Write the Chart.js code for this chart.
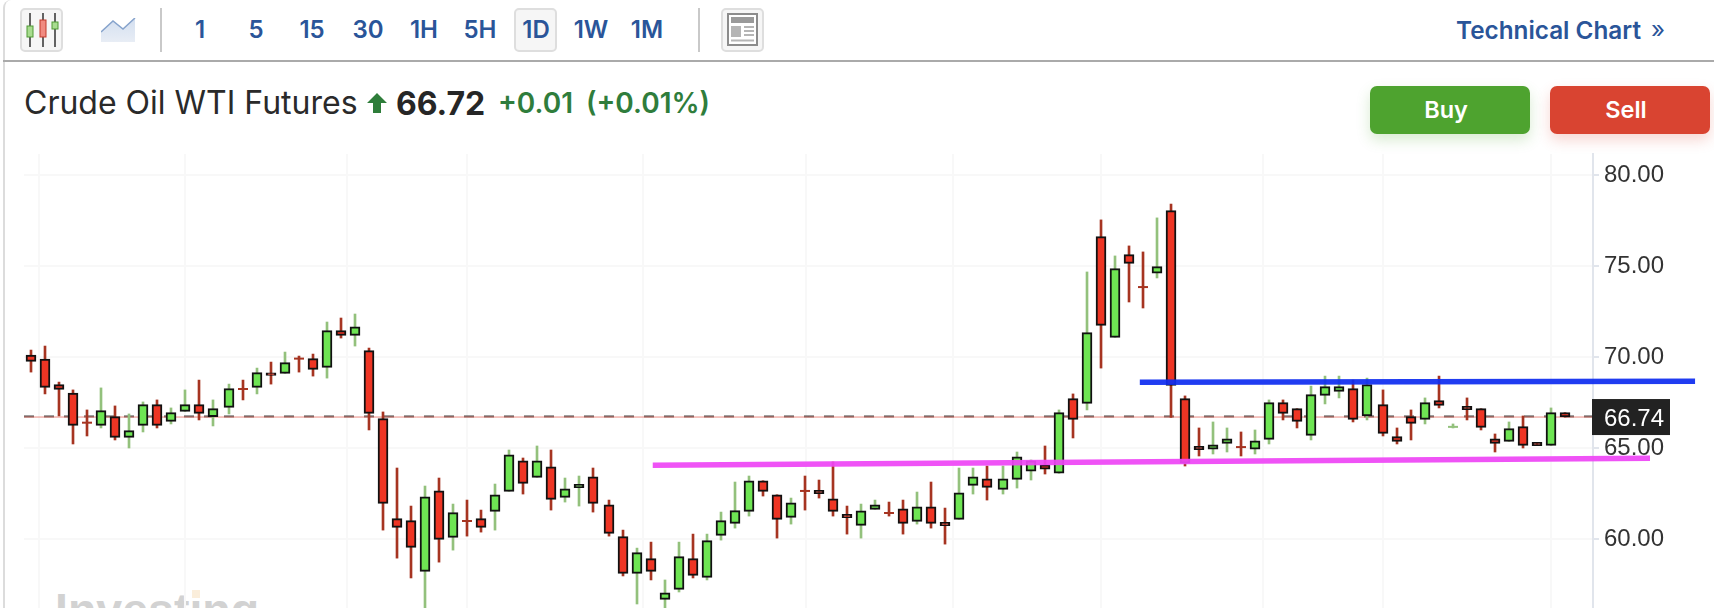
<!DOCTYPE html>
<html>
<head>
<meta charset="utf-8">
<title>Crude Oil WTI Futures</title>
<script src="https://cdn.jsdelivr.net/npm/chart.js@4"></script>
<style>
  html, body { margin: 0; padding: 0; background: #fff; }
  body { position: relative; width: 1714px; height: 608px; overflow: hidden; font-family: Inter, sans-serif; }
  .abs { position: absolute; }
  #frame { left: 3px; top: 0; width: 1711px; height: 608px; border-left: 2px solid #dcdcdc; border-top-left-radius: 8px; box-sizing: border-box; }
  #rule { left: 3px; top: 60px; width: 1711px; height: 2px; background: #aaa; }
  .sep { top: 8px; width: 2px; height: 44px; background: #c9c9c9; }
  .btn { top: 8px; width: 43px; height: 44px; box-sizing: border-box; background: #f6f6f6; border: 2px solid #dedede; border-radius: 5px; }
  .tf { top: 16px; width: 50px; text-align: center; font-size: 24px; line-height: 28px; font-weight: 600; color: #2a5599; }
  #tech { left: 1456px; top: 16px; font-size: 24.3px; line-height: 28px; font-weight: 600; color: #2a5599; white-space: nowrap; }
  #tech2 { left: 1651px; top: 16px; font-size: 24px; line-height: 28px; color: #2a5599; }
  #title { left: 24px; top: 84px; font-size: 32px; line-height: 38px; color: #2a2a2a; white-space: nowrap; }
  #price { left: 396px; top: 84px; font-size: 32px; line-height: 40px; font-weight: 700; color: #262626; }
  #change { left: 498px; top: 84px; font-size: 28px; line-height: 38px; font-weight: 600; color: #2f7d3c; white-space: nowrap; word-spacing: 6px; }
  .trade { top: 86px; width: 152px; padding-right: 8px; height: 48px; border-radius: 7px; color: #fff; text-align: center; font-size: 23.5px; font-weight: 600; line-height: 47px; }
  #buy { left: 1370px; background: #4ea32f; box-shadow: 0 6px 14px rgba(78,163,47,.22); }
  #sell { left: 1550px; background: #d94431; box-shadow: 0 6px 14px rgba(217,68,49,.22); }
  #mark { left: 55px; top: 585px; font: bold 46.5px "Liberation Sans", sans-serif; line-height: 50px; color: #d2d2d2; white-space: nowrap; }
  #markdot { left: 192px; top: 590px; width: 8px; height: 8px; background: #fbeedb; }
  #chart { position: absolute; left: 0; top: 130px; }
</style>
</head>
<body>
<div class="abs" id="frame"></div>
<div class="abs" id="rule"></div>

<div class="abs btn" style="left:20px"></div>
<svg class="abs" style="left:20px;top:8px" width="44" height="44">
  <path d="M10 5V39M23 5V39M35 5V39" stroke="#333" stroke-width="1.5"/>
  <rect x="7" y="18" width="6" height="11" fill="#a8dc8f" stroke="#4f9a34"/>
  <rect x="20" y="12" width="6" height="17" fill="#f08a80" stroke="#c0392b"/>
  <rect x="32" y="14" width="6" height="7" fill="#a8dc8f" stroke="#4f9a34"/>
</svg>
<svg class="abs" style="left:101px;top:18px" width="35" height="24">
  <defs><linearGradient id="g" x1="0" y1="0" x2="0" y2="1"><stop offset="0" stop-color="#d3dff0"/><stop offset="1" stop-color="#e8edf5"/></linearGradient></defs>
  <path d="M0 14L12 3L22 11L34 0V24H0Z" fill="url(#g)"/>
  <path d="M0 14L12 3L22 11L34 0" fill="none" stroke="#86a3cc" stroke-width="1.5"/>
</svg>
<div class="abs sep" style="left:160px"></div>
<div class="abs btn" style="left:514px"></div>
<div class="abs tf" style="left:175px">1</div>
<div class="abs tf" style="left:231px">5</div>
<div class="abs tf" style="left:287px">15</div>
<div class="abs tf" style="left:343px">30</div>
<div class="abs tf" style="left:399px">1H</div>
<div class="abs tf" style="left:455px">5H</div>
<div class="abs tf" style="left:511px">1D</div>
<div class="abs tf" style="left:566px">1W</div>
<div class="abs tf" style="left:622px">1M</div>
<div class="abs sep" style="left:698px"></div>
<div class="abs btn" style="left:721px"></div>
<svg class="abs" style="left:721px;top:8px" width="43" height="44">
  <rect x="7" y="6" width="29" height="31" fill="#fff" stroke="#8c8c8c" stroke-width="2"/>
  <rect x="10" y="9" width="23" height="6" fill="#9a9a9a"/>
  <rect x="10" y="18" width="10" height="11" fill="#b5b5b5"/>
  <path d="M23 19H33M23 23H33M23 27H33M10 32.5H33" stroke="#b5b5b5" stroke-width="2"/>
</svg>
<div class="abs" id="tech">Technical Chart</div>
<div class="abs" id="tech2">»</div>

<div class="abs" id="title">Crude Oil WTI Futures</div>
<svg class="abs" style="left:367px;top:93px" width="20" height="20"><path d="M10 0L20 10H14V20H6V10H0Z" fill="#2e7d3a"/></svg>
<div class="abs" id="price">66.72</div>
<div class="abs" id="change">+0.01 (+0.01%)</div>
<div class="abs trade" id="buy">Buy</div>
<div class="abs trade" id="sell">Sell</div>

<div class="abs" id="mark">Investing</div>
<div class="abs" id="markdot"></div>
<canvas id="chart" width="1714" height="478"></canvas>

<script>
const opens = [70.13,69.91,68.50,68.04,66.41,66.26,66.74,65.60,66.26,67.40,
  66.48,67.03,67.40,66.74,67.25,68.26,68.35,69.15,69.12,69.93,
  69.93,69.45,71.47,71.21,70.37,66.63,61.14,61.03,58.24,62.67,
  60.11,61.01,61.14,61.54,62.64,64.32,63.41,63.99,62.31,62.84,
  63.44,61.90,60.15,58.13,58.94,56.70,57.25,58.94,57.91,60.22,
  60.88,61.54,63.22,62.45,61.21,62.66,62.69,62.23,61.37,60.77,
  61.65,61.45,61.68,60.99,61.79,60.93,61.10,62.97,63.33,62.75,
  63.30,63.74,64.10,63.63,67.73,67.47,76.63,71.10,75.64,73.86,
  74.62,78.06,67.73,65.11,64.95,65.27,65.07,64.95,65.49,67.51,
  67.18,65.71,67.91,68.13,68.28,66.78,67.40,65.64,66.74,66.59,
  67.62,66.17,67.31,67.18,65.53,65.38,66.19,65.33,65.16,66.96];
const highs = [70.40,70.62,68.64,68.21,67.11,68.32,67.33,66.89,67.55,67.66,
  67.22,68.21,68.75,67.66,68.53,68.75,69.41,69.74,70.29,70.07,
  70.18,71.94,72.16,72.38,70.51,67.00,63.92,61.83,62.93,63.37,
  61.94,62.16,61.61,63.04,64.91,64.47,65.13,64.91,63.37,63.48,
  63.92,62.16,60.51,59.52,59.85,57.77,59.85,60.29,60.29,61.50,
  63.15,63.48,63.22,62.45,62.27,63.48,63.26,64.25,61.83,61.94,
  62.16,62.05,62.16,62.60,63.15,61.72,63.92,63.92,64.03,64.03,
  64.80,64.36,65.13,67.11,67.99,74.69,77.55,75.57,76.12,75.79,
  77.66,78.42,67.88,66.12,66.45,66.12,65.90,66.01,67.66,67.66,
  67.18,68.42,68.97,68.97,68.75,68.86,68.21,66.12,67.11,67.77,
  68.97,66.34,67.77,67.18,65.79,66.45,66.78,65.33,67.22,66.96];
const lows = [69.19,67.99,66.78,65.24,65.68,66.12,65.46,65.02,65.90,66.12,
  66.34,67.03,66.56,66.23,66.89,67.66,67.99,68.53,69.12,69.19,
  68.97,68.86,71.06,70.62,66.01,60.51,58.97,57.88,56.00,58.75,
  59.41,60.18,60.40,60.51,62.64,62.49,63.41,61.61,62.05,61.83,
  61.50,60.18,57.99,56.45,57.77,56.00,57.11,57.88,57.77,59.96,
  60.62,61.28,62.38,60.07,60.84,61.61,62.27,61.28,60.29,60.07,
  61.65,61.28,60.29,60.84,60.62,59.74,61.10,62.49,62.16,62.49,
  62.82,63.26,63.59,63.63,65.57,67.11,69.41,71.10,73.04,72.71,
  74.36,66.70,64.03,64.58,64.69,64.80,64.58,64.69,65.24,66.56,
  66.12,65.46,67.44,67.77,66.45,66.56,65.68,65.24,65.46,66.34,
  67.22,66.12,66.56,66.01,64.80,65.38,65.02,65.15,65.16,66.72];
const closes = [69.78,68.35,68.24,66.26,66.41,67.07,65.60,65.97,67.40,66.26,
  66.96,67.40,66.92,67.18,68.28,68.26,69.16,69.00,69.71,69.93,
  69.34,71.47,71.21,71.68,66.92,61.98,60.66,59.56,62.34,60.00,
  61.47,61.01,60.66,62.45,64.65,63.08,64.32,62.20,62.78,63.02,
  61.98,60.33,58.13,59.27,58.24,57.07,59.05,58.02,59.93,61.03,
  61.58,63.22,62.64,61.10,62.01,62.66,62.51,61.54,61.19,61.57,
  61.90,61.45,60.88,61.79,60.88,60.75,62.56,63.44,62.86,63.33,
  64.54,64.32,63.85,66.96,66.59,71.36,71.76,74.87,75.16,73.86,
  74.98,68.46,64.18,64.93,65.20,65.53,65.07,65.42,67.51,66.92,
  66.48,67.95,68.39,68.39,66.59,68.50,65.82,65.38,66.37,67.51,
  67.36,66.18,67.12,66.15,65.27,66.08,65.16,65.15,66.96,66.72];

// candles right after these sit a bit further along (contract rolls)
const rolls = [14, 41, 69, 96];
const dateLines = [0.57, 11, 22.57, 31.14, 43.71, 55.33, 65.86, 76.43, 88, 96.57, 108.6];
const priceTicks = [60, 65, 70, 75, 80];

const lastPrice = 66.72;
const bidPrice = 66.75;
const lastLabel = '66.74';
const resistanceX = [79.2, 118.86];
const resistanceY = [68.63, 68.68];
const supportX = [44.41, 115.64];
const supportY = [64.07, 64.45];

const GREEN = '#6ee553', RED = '#ee3524';
const WICK_GREEN = '#93c17c', WICK_RED = '#a63421';

const candles = opens.map((open, i) => ({
  x: i + rolls.filter(r => i >= r).length / 7,
  open, close: closes[i], high: highs[i], low: lows[i],
  up: closes[i] > open,
  cross: Math.abs(closes[i] - open) < 0.05
}));

const wickColor = ctx => ctx.raw.up ? WICK_GREEN : WICK_RED;
const xMin = -0.5, xMax = 111.57;

const lastBox = {
  id: 'lastBox',
  afterDraw(chart) {
    const c = chart.ctx, y = chart.scales.y.getPixelForValue(lastPrice);
    c.save();
    c.fillStyle = '#222';
    c.fillRect(1592, y - 18, 78, 36);
    c.fillStyle = '#fff';
    c.font = '24px "Liberation Sans"';
    c.textBaseline = 'middle';
    c.fillText(lastLabel, 1604, y + 2);
    c.restore();
  }
};

new Chart(document.getElementById('chart'), {
  type: 'bar',
  plugins: [lastBox],
  data: {
    datasets: [
      {
        type: 'line', order: 0, clip: false,
        data: resistanceX.map((x, i) => ({ x, y: resistanceY[i] })),
        borderColor: 'rgba(15,45,240,0.93)', borderWidth: 5.5, pointRadius: 0
      },
      {
        type: 'line', order: 0, clip: false,
        data: supportX.map((x, i) => ({ x, y: supportY[i] })),
        borderColor: 'rgba(238,70,245,0.93)', borderWidth: 5.5, pointRadius: 0
      },
      {
        type: 'line', order: 1, showLine: false,
        data: candles.filter(c => c.cross).map(c => ({ x: c.x, y: c.close, up: c.up })),
        pointStyle: 'line', pointRadius: 5, pointBorderWidth: 2,
        pointBorderColor: wickColor
      },
      {
        order: 2,
        data: candles.filter(c => !c.cross).map(c => ({ x: c.x, y: [c.open, c.close], up: c.up })),
        barThickness: 10,
        backgroundColor: ctx => ctx.raw.up ? GREEN : RED,
        borderColor: '#111', borderWidth: 2, borderSkipped: false
      },
      {
        order: 3,
        data: candles.map(c => ({ x: c.x, y: [c.low, c.high], up: c.up })),
        barThickness: 2,
        backgroundColor: wickColor
      },
      {
        type: 'line', order: 4,
        data: [{ x: xMin, y: lastPrice }, { x: xMax, y: lastPrice }],
        borderColor: '#ea8a80', borderWidth: 1, pointRadius: 0
      },
      {
        type: 'line', order: 5,
        data: [{ x: xMin, y: bidPrice }, { x: xMax, y: bidPrice }],
        borderColor: '#444', borderWidth: 2, borderDash: [10, 10], pointRadius: 0
      }
    ]
  },
  options: {
    responsive: false,
    animation: false,
    events: [],
    layout: { autoPadding: false, padding: { top: 24, left: 24, right: 0, bottom: 0 } },
    plugins: { legend: { display: false }, tooltip: { enabled: false } },
    datasets: { bar: { grouped: false } },
    scales: {
      x: {
        type: 'linear', offset: false, min: xMin, max: xMax,
        afterBuildTicks: s => { s.ticks = dateLines.map(value => ({ value })); },
        ticks: { display: false },
        border: { display: false },
        grid: { offset: false, color: '#f8f8f8', lineWidth: 2, drawTicks: false }
      },
      y: {
        position: 'right', min: 56.23, max: 81.17,
        afterBuildTicks: s => { s.ticks = priceTicks.map(value => ({ value })); },
        afterFit: s => { s.width = 121; s.paddingTop = 0; s.paddingBottom = 0; },
        ticks: {
          color: '#333', padding: 5,
          font: { family: '"Liberation Sans"', size: 24 },
          callback: v => v.toFixed(2)
        },
        border: { color: '#e1e5ec', width: 2 },
        grid: { color: '#f8f8f8', lineWidth: 2, tickColor: '#e1e5ec', tickLength: 6 }
      }
    }
  }
});
</script>
</body>
</html>
